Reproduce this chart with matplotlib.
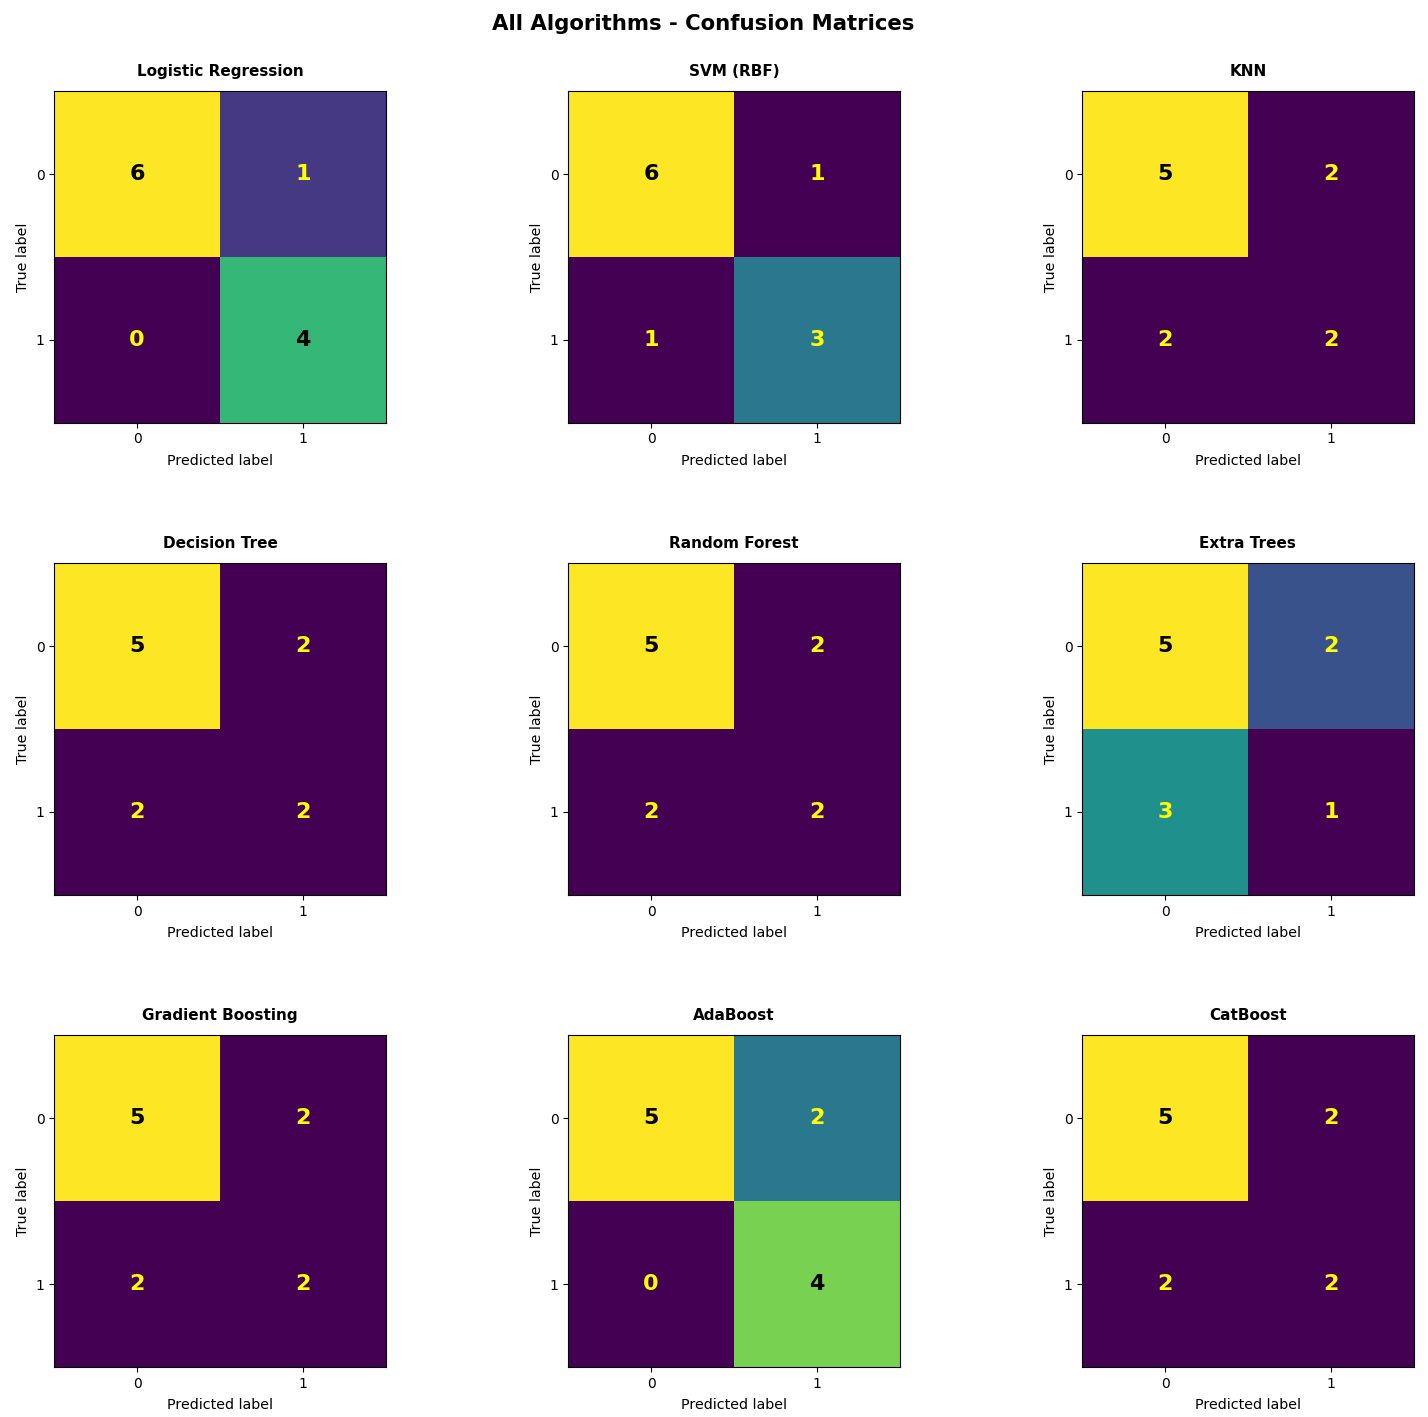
import numpy as np
import matplotlib
matplotlib.use("Agg")
import matplotlib.pyplot as plt

models = ["Logistic Regression", "SVM (RBF)", "KNN",
          "Decision Tree", "Random Forest", "Extra Trees",
          "Gradient Boosting", "AdaBoost", "CatBoost"]
cm_logreg = [[6, 1], [0, 4]]
cm_svm = [[6, 1], [1, 3]]
cm_knn = [[5, 2], [2, 2]]
cm_dtree = [[5, 2], [2, 2]]
cm_rf = [[5, 2], [2, 2]]
cm_et = [[5, 2], [3, 1]]
cm_gb = [[5, 2], [2, 2]]
cm_ada = [[5, 2], [0, 4]]
cm_cat = [[5, 2], [2, 2]]
matrices = [cm_logreg, cm_svm, cm_knn, cm_dtree, cm_rf, cm_et, cm_gb, cm_ada, cm_cat]
class_labels = ["0", "1"]

fig, axes = plt.subplots(3, 3, figsize=(14.28, 14.17), dpi=100)
fig.subplots_adjust(left=0.038, right=0.990, bottom=0.035, top=0.936, wspace=0.55, hspace=0.42)

for ax, name, m in zip(axes.flat, models, matrices):
    cm = np.array(m)
    ax.imshow(cm, cmap="viridis", interpolation="nearest")
    thresh = (cm.max() + cm.min()) / 2.0
    for i in range(cm.shape[0]):
        for j in range(cm.shape[1]):
            color = "black" if cm[i, j] > thresh else "yellow"
            ax.text(j, i, str(cm[i, j]), ha="center", va="center",
                    color=color, fontsize=16, fontweight="bold")
    ax.set_xticks(range(len(class_labels)))
    ax.set_yticks(range(len(class_labels)))
    ax.set_xticklabels(class_labels)
    ax.set_yticklabels(class_labels)
    ax.set_xlabel("Predicted label", fontsize=10.3, labelpad=5.5)
    ax.set_ylabel("True label", fontsize=10.3)
    ax.set_title(name, fontsize=11, fontweight="bold", pad=11)

fig.suptitle("All Algorithms - Confusion Matrices", fontsize=15.3, fontweight="bold",
             x=0.4925, y=0.990)
fig.savefig("out.png", dpi=100)
